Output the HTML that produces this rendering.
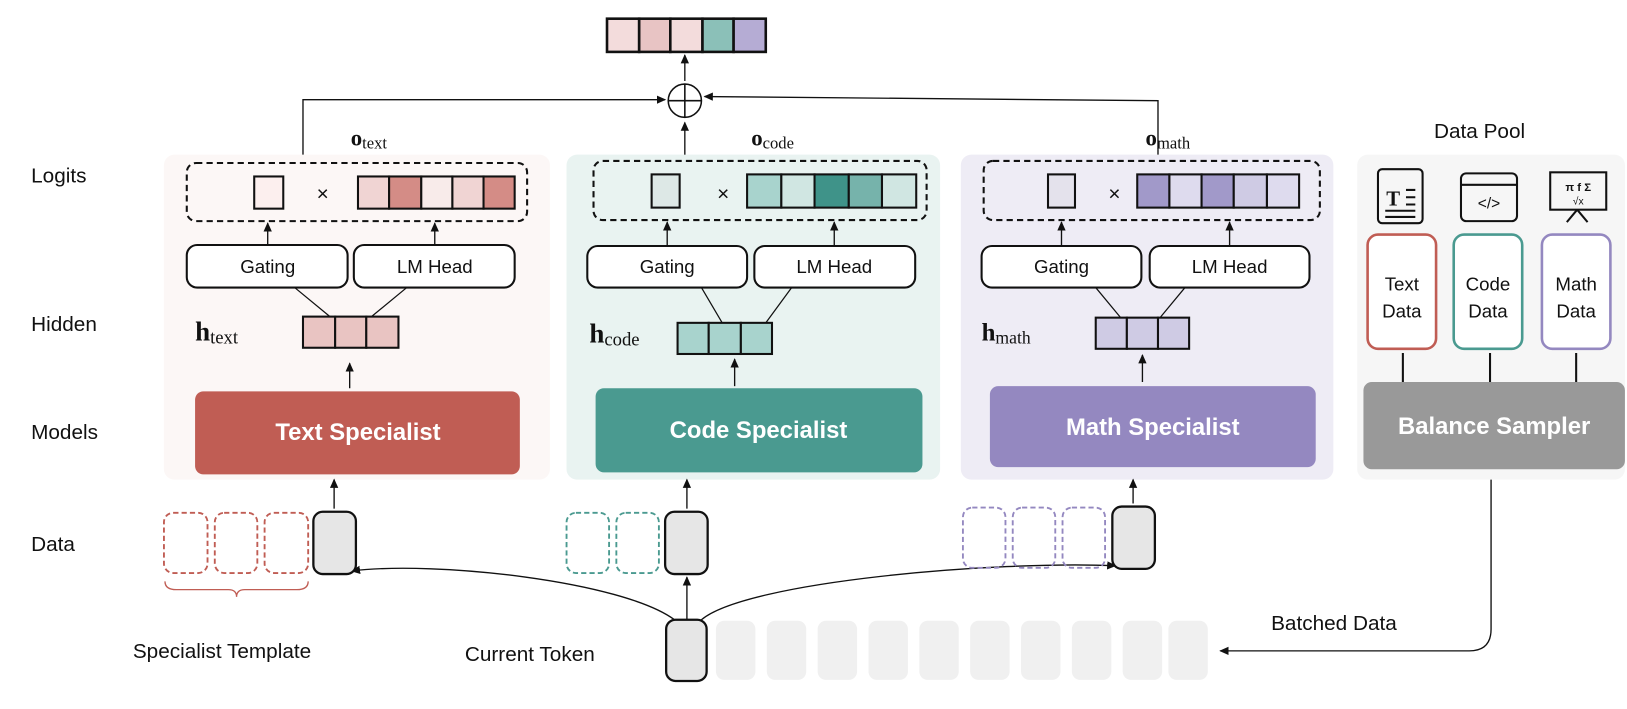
<!DOCTYPE html>
<html><head><meta charset="utf-8"><style>
body{margin:0;background:#fff}
svg{display:block;font-family:"Liberation Sans",sans-serif}
.m{font-family:"Liberation Serif",serif}
</style></head><body>
<svg width="1627" height="709" viewBox="0 0 1568 683" preserveAspectRatio="none">
<defs><marker id="a" markerWidth="10" markerHeight="10" refX="8" refY="5" orient="auto" markerUnits="userSpaceOnUse"><path d="M0,1 L9,5 L0,9 Z" fill="#111"/></marker></defs>
<!-- panels -->
<rect x="158" y="149" width="372" height="313" rx="10" fill="#fcf7f6"/>
<rect x="546" y="149" width="360" height="313" rx="10" fill="#e9f3f1"/>
<rect x="926" y="149" width="359" height="313" rx="10" fill="#eeecf5"/>
<rect x="1308" y="149" width="258" height="313" rx="10" fill="#f6f6f6"/>
<!-- left labels -->
<g font-size="20" fill="#111">
<text x="30" y="176">Logits</text><text x="30" y="319">Hidden</text>
<text x="30" y="423">Models</text><text x="30" y="531">Data</text>
<text x="128" y="634">Specialist Template</text><text x="448" y="637">Current Token</text>
<text x="1225" y="607">Batched Data</text><text x="1382" y="133">Data Pool</text>
</g>
<!-- top output -->
<g stroke="#111" stroke-width="2.5">
<rect x="585" y="18" width="31" height="32" fill="#f3dcdc"/><rect x="616" y="18" width="30" height="32" fill="#e8c4c4"/><rect x="646" y="18" width="31" height="32" fill="#f3dcdc"/><rect x="677" y="18" width="30" height="32" fill="#8bc0b8"/><rect x="707" y="18" width="31" height="32" fill="#b5acd4"/>
</g>
<circle cx="660" cy="97" r="16" fill="none" stroke="#111" stroke-width="1.5"/>
<path d="M644,97 H676 M660,81 V113" stroke="#111" stroke-width="1.5"/>
<g stroke="#111" stroke-width="1.3" fill="none" marker-end="url(#a)">
<path d="M660,78 V53"/><path d="M660,149 V118"/>
<path d="M292,149 V96 H641"/><path d="M1116,149 V97 L679,93"/>
</g>
<g class="m" font-size="22" font-weight="bold" fill="#111">
<text x="338" y="140">o<tspan font-weight="normal" font-size="16" dy="3">text</tspan></text>
<text x="724" y="140">o<tspan font-weight="normal" font-size="16" dy="3">code</tspan></text>
<text x="1104" y="140">o<tspan font-weight="normal" font-size="16" dy="3">math</tspan></text>
<text x="188" y="328" font-size="26">h<tspan font-weight="normal" font-size="18" dy="3">text</tspan></text>
<text x="568" y="330" font-size="26">h<tspan font-weight="normal" font-size="18" dy="3">code</tspan></text>
<text x="946" y="328" font-size="24">h<tspan font-weight="normal" font-size="17" dy="3">math</tspan></text>
</g>
<!-- dashed boxes -->
<g fill="none" stroke="#111" stroke-width="2" stroke-dasharray="6,4">
<rect x="180" y="157" width="328" height="56" rx="9"/>
<rect x="572" y="155" width="321" height="57" rx="9"/>
<rect x="948" y="155" width="324" height="57" rx="9"/>
</g>
<g font-size="20" fill="#111" text-anchor="middle"><text x="311" y="193">×</text><text x="697" y="193">×</text><text x="1074" y="193">×</text></g>
<g stroke="#111" stroke-width="2">
<rect x="245" y="170" width="28" height="31" fill="#fcefee"/>
<rect x="345" y="170" width="30" height="31" fill="#f0d4d3"/><rect x="375" y="170" width="31" height="31" fill="#d48c86"/><rect x="406" y="170" width="30" height="31" fill="#f8ebea"/><rect x="436" y="170" width="30" height="31" fill="#f0d4d3"/><rect x="466" y="170" width="30" height="31" fill="#d48c86"/>
<rect x="628" y="168" width="27" height="32" fill="#dde8e6"/>
<rect x="720" y="168" width="33" height="32" fill="#a8d3cd"/><rect x="753" y="168" width="32" height="32" fill="#d0e6e2"/><rect x="785" y="168" width="33" height="32" fill="#3f9389"/><rect x="818" y="168" width="32" height="32" fill="#76b3ab"/><rect x="850" y="168" width="33" height="32" fill="#d0e6e2"/>
<rect x="1010" y="168" width="26" height="32" fill="#e4e2ec"/>
<rect x="1096" y="168" width="31" height="32" fill="#a199c9"/><rect x="1127" y="168" width="31" height="32" fill="#dedbee"/><rect x="1158" y="168" width="31" height="32" fill="#a199c9"/><rect x="1189" y="168" width="32" height="32" fill="#cfcbe4"/><rect x="1221" y="168" width="31" height="32" fill="#dedbee"/>
</g>
<!-- gating/lm head -->
<g fill="#fff" stroke="#111" stroke-width="2">
<rect x="180" y="236" width="155" height="41" rx="10"/><rect x="341" y="236" width="155" height="41" rx="10"/>
<rect x="566" y="237" width="154" height="40" rx="10"/><rect x="727" y="237" width="155" height="40" rx="10"/>
<rect x="946" y="237" width="154" height="40" rx="10"/><rect x="1108" y="237" width="154" height="40" rx="10"/>
</g>
<g font-size="18" fill="#111" text-anchor="middle">
<text x="258" y="263">Gating</text><text x="419" y="263">LM Head</text>
<text x="643" y="263">Gating</text><text x="804" y="263">LM Head</text>
<text x="1023" y="263">Gating</text><text x="1185" y="263">LM Head</text>
</g>
<g stroke="#111" stroke-width="1.3" fill="none" marker-end="url(#a)">
<path d="M258,236 V215"/><path d="M419,236 V215"/>
<path d="M643,237 V214"/><path d="M804,237 V214"/>
<path d="M1023,237 V214"/><path d="M1185,237 V214"/>
<path d="M337,374 V350"/><path d="M708,372 V346"/><path d="M1101,368 V342"/>
<path d="M322,490 V462"/><path d="M662,490 V462"/><path d="M1092,485 V462"/>
<path d="M662,597 V556"/>
<path d="M650,597 C600,560 420,540 339,550"/><path d="M676,597 C720,560 960,540 1075,545"/>
<path d="M1437,462 V606 Q1437,627 1416,627 H1176"/>
</g>
<g stroke="#111" stroke-width="1.2"><path d="M284,277 L318,305 M392,277 L358,305"/><path d="M676,277 L696,311 M763,277 L738,311"/><path d="M1056,277 L1080,306 M1142,277 L1118,306"/></g>
<!-- h vectors -->
<g stroke="#111" stroke-width="2">
<rect x="292" y="305" width="31" height="30" fill="#e9c4c2"/><rect x="323" y="305" width="30" height="30" fill="#e9c4c2"/><rect x="353" y="305" width="31" height="30" fill="#e9c4c2"/>
<rect x="653" y="311" width="30" height="30" fill="#a8d3cd"/><rect x="683" y="311" width="31" height="30" fill="#a8d3cd"/><rect x="714" y="311" width="30" height="30" fill="#a8d3cd"/>
<rect x="1056" y="306" width="30" height="30" fill="#cfcbe4"/><rect x="1086" y="306" width="30" height="30" fill="#cfcbe4"/><rect x="1116" y="306" width="30" height="30" fill="#cfcbe4"/>
</g>
<!-- specialists -->
<rect x="188" y="377" width="313" height="80" rx="8" fill="#c05d54"/>
<rect x="574" y="374" width="315" height="81" rx="8" fill="#4a9a90"/>
<rect x="954" y="372" width="314" height="78" rx="8" fill="#9488c0"/>
<rect x="1314" y="368" width="252" height="84" rx="8" fill="#999"/>
<g fill="#fff" font-size="23" font-weight="bold" text-anchor="middle">
<text x="345" y="424">Text Specialist</text><text x="731" y="422">Code Specialist</text><text x="1111" y="419">Math Specialist</text><text x="1440" y="418">Balance Sampler</text>
</g>
<!-- data pool -->
<g fill="#fff" stroke-width="2.5">
<rect x="1318" y="226" width="66" height="110" rx="10" stroke="#c05d54"/>
<rect x="1401" y="226" width="66" height="110" rx="10" stroke="#4a9a90"/>
<rect x="1486" y="226" width="66" height="110" rx="10" stroke="#9488c0"/>
</g>
<g font-size="18" fill="#111" text-anchor="middle">
<text x="1351" y="280">Text</text><text x="1351" y="306">Data</text>
<text x="1434" y="280">Code</text><text x="1434" y="306">Data</text>
<text x="1519" y="280">Math</text><text x="1519" y="306">Data</text>
</g>
<g stroke="#111" stroke-width="2"><path d="M1352,340 V368 M1436,340 V368 M1519,340 V368"/></g>
<g fill="none" stroke="#111" stroke-width="2">
<rect x="1328" y="163" width="43" height="52" rx="4"/><path d="M1335,203 H1364 M1335,209 H1364 M1355,183 H1364 M1355,190 H1364 M1355,197 H1364"/>
<rect x="1408" y="167" width="54" height="46" rx="5"/><path d="M1408,178 H1462"/>
<rect x="1494" y="166" width="54" height="36"/><path d="M1520,202 L1510,214 M1520,202 L1530,214"/>
</g>
<text x="1336" y="198" font-size="20" font-weight="bold" fill="#111" font-family="Liberation Serif">T</text>
<text x="1435" y="201" font-size="15" text-anchor="middle" fill="#111">&lt;/&gt;</text>
<text x="1521" y="184" font-size="11" text-anchor="middle" fill="#111" font-weight="bold">π f Σ</text>
<text x="1521" y="197" font-size="10" text-anchor="middle" fill="#111">√x</text>
<!-- data tokens -->
<g fill="none" stroke-width="1.8" stroke-dasharray="5,3">
<rect x="158" y="494" width="42" height="58" rx="9" stroke="#c05d54"/><rect x="207" y="494" width="41" height="58" rx="9" stroke="#c05d54"/><rect x="255" y="494" width="42" height="58" rx="9" stroke="#c05d54"/>
<rect x="546" y="494" width="41" height="58" rx="9" stroke="#4a9a90"/><rect x="594" y="494" width="41" height="58" rx="9" stroke="#4a9a90"/>
<rect x="928" y="489" width="41" height="58" rx="9" stroke="#9488c0"/><rect x="976" y="489" width="41" height="58" rx="9" stroke="#9488c0"/><rect x="1024" y="489" width="41" height="58" rx="9" stroke="#9488c0"/>
</g>
<path d="M159,560 Q159,568 170,568 H220 Q228,568 228,575 Q228,568 236,568 H286 Q297,568 297,560" fill="none" stroke="#c05d54" stroke-width="1.3"/>
<g fill="#e6e6e6" stroke="#111" stroke-width="2.2">
<rect x="302" y="493" width="41" height="60" rx="9"/><rect x="641" y="493" width="41" height="60" rx="9"/><rect x="1072" y="488" width="41" height="60" rx="9"/><rect x="642" y="597" width="39" height="59" rx="9"/>
</g>
<g fill="#f0f0f0">
<rect x="690" y="598" width="38" height="57" rx="8"/><rect x="739" y="598" width="38" height="57" rx="8"/><rect x="788" y="598" width="38" height="57" rx="8"/><rect x="837" y="598" width="38" height="57" rx="8"/><rect x="886" y="598" width="38" height="57" rx="8"/><rect x="935" y="598" width="38" height="57" rx="8"/><rect x="984" y="598" width="38" height="57" rx="8"/><rect x="1033" y="598" width="38" height="57" rx="8"/><rect x="1082" y="598" width="38" height="57" rx="8"/><rect x="1126" y="598" width="38" height="57" rx="8"/>
</g>
</svg>
</body></html>
